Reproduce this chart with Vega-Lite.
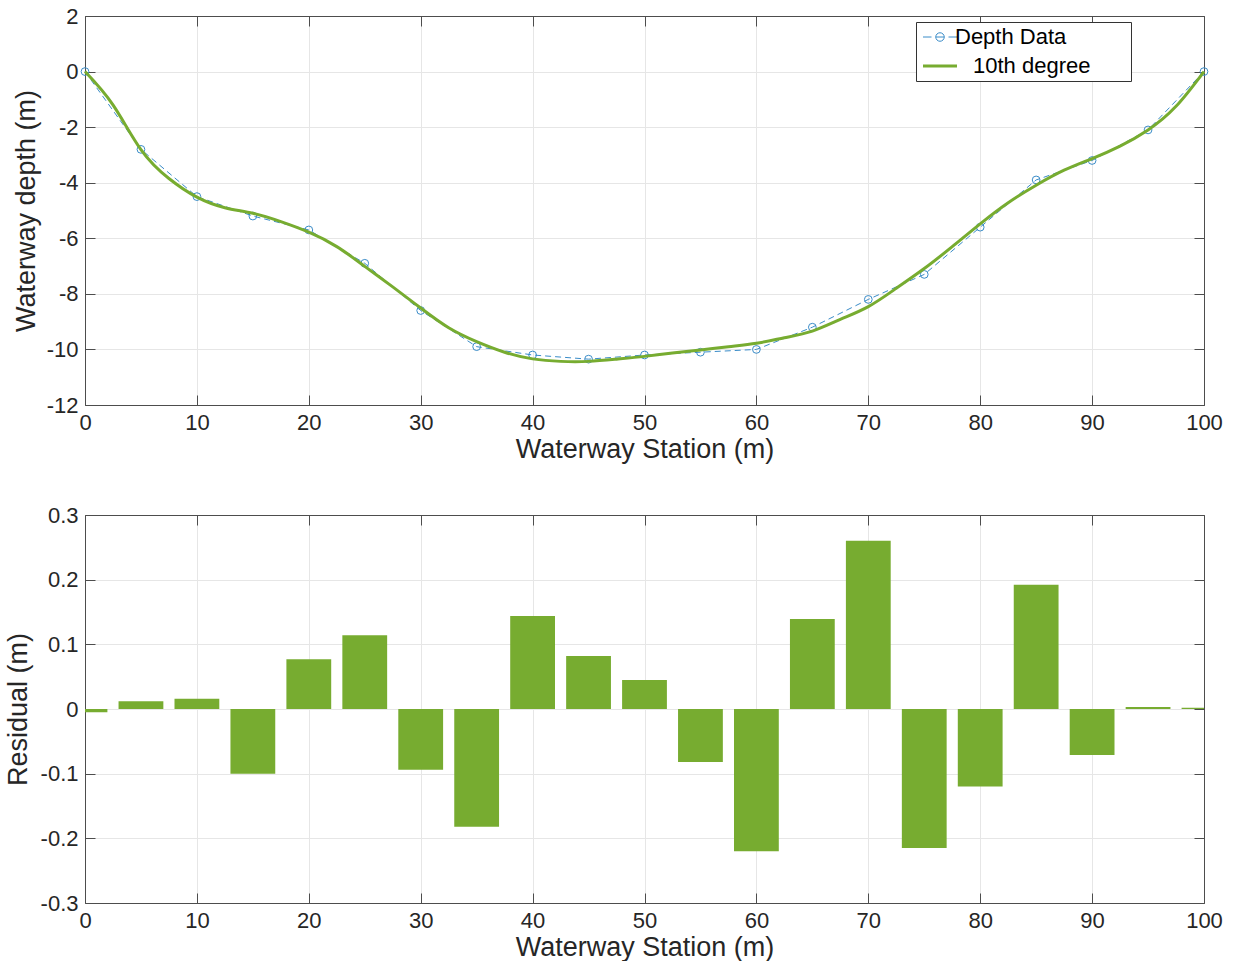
{
  "$schema": "https://vega.github.io/schema/vega-lite/v6.json",
  "background": "white",
  "padding": {"left": 4, "top": 5, "right": 25, "bottom": 3},
  "bounds": "flush",
  "align": "all",
  "center": false,
  "spacing": 110,
  "config": {
    "view": {"stroke": null},
    "font": "Liberation Sans",
    "axis": {
      "labelFont": "Liberation Sans",
      "labelFontSize": 22,
      "labelColor": "#262626",
      "titleFont": "Liberation Sans",
      "titleFontSize": 27,
      "titleFontWeight": "normal",
      "titleColor": "#262626",
      "gridColor": "#e6e6e6",
      "gridWidth": 1,
      "domainColor": "#4d4d4d",
      "domainWidth": 1,
      "tickColor": "#4d4d4d",
      "tickSize": -10,
      "labelFlush": false,
      "labelOverlap": false,
      "labelPadding": 17
    }
  },
  "datasets": {
    "depth": [
      {"station": 0, "depth": 0},
      {"station": 5, "depth": -2.8},
      {"station": 10, "depth": -4.5},
      {"station": 15, "depth": -5.2},
      {"station": 20, "depth": -5.7},
      {"station": 25, "depth": -6.9},
      {"station": 30, "depth": -8.6},
      {"station": 35, "depth": -9.9},
      {"station": 40, "depth": -10.2},
      {"station": 45, "depth": -10.35},
      {"station": 50, "depth": -10.2},
      {"station": 55, "depth": -10.1},
      {"station": 60, "depth": -10.0},
      {"station": 65, "depth": -9.2},
      {"station": 70, "depth": -8.2},
      {"station": 75, "depth": -7.3},
      {"station": 80, "depth": -5.6},
      {"station": 85, "depth": -3.9},
      {"station": 90, "depth": -3.2},
      {"station": 95, "depth": -2.1},
      {"station": 100, "depth": 0}
    ],
    "fit": [
      {"station": 0, "depth": 0.0},
      {"station": 2.5, "depth": -1.2},
      {"station": 5, "depth": -2.81},
      {"station": 7.5, "depth": -3.85},
      {"station": 10, "depth": -4.52},
      {"station": 12.5, "depth": -4.9},
      {"station": 15, "depth": -5.1},
      {"station": 17.5, "depth": -5.4},
      {"station": 20, "depth": -5.78},
      {"station": 22.5, "depth": -6.3},
      {"station": 25, "depth": -7.01},
      {"station": 27.5, "depth": -7.75},
      {"station": 30, "depth": -8.51},
      {"station": 32.5, "depth": -9.22},
      {"station": 35, "depth": -9.72},
      {"station": 37.5, "depth": -10.1},
      {"station": 40, "depth": -10.34},
      {"station": 42.5, "depth": -10.43},
      {"station": 45, "depth": -10.43},
      {"station": 47.5, "depth": -10.35},
      {"station": 50, "depth": -10.25},
      {"station": 52.5, "depth": -10.13},
      {"station": 55, "depth": -10.02},
      {"station": 57.5, "depth": -9.9},
      {"station": 60, "depth": -9.78},
      {"station": 62.5, "depth": -9.58},
      {"station": 65, "depth": -9.34},
      {"station": 67.5, "depth": -8.92},
      {"station": 70, "depth": -8.46},
      {"station": 72.5, "depth": -7.8},
      {"station": 75, "depth": -7.09},
      {"station": 77.5, "depth": -6.3},
      {"station": 80, "depth": -5.48},
      {"station": 82.5, "depth": -4.72},
      {"station": 85, "depth": -4.09},
      {"station": 87.5, "depth": -3.55},
      {"station": 90, "depth": -3.13},
      {"station": 92.5, "depth": -2.68},
      {"station": 95, "depth": -2.1},
      {"station": 97.5, "depth": -1.25},
      {"station": 100, "depth": 0.0}
    ],
    "resid": [
      {"station": 0, "residual": -0.005},
      {"station": 5, "residual": 0.012},
      {"station": 10, "residual": 0.016},
      {"station": 15, "residual": -0.1},
      {"station": 20, "residual": 0.077},
      {"station": 25, "residual": 0.114},
      {"station": 30, "residual": -0.094},
      {"station": 35, "residual": -0.182},
      {"station": 40, "residual": 0.144},
      {"station": 45, "residual": 0.082},
      {"station": 50, "residual": 0.045},
      {"station": 55, "residual": -0.082},
      {"station": 60, "residual": -0.22},
      {"station": 65, "residual": 0.139},
      {"station": 70, "residual": 0.26},
      {"station": 75, "residual": -0.215},
      {"station": 80, "residual": -0.12},
      {"station": 85, "residual": 0.192},
      {"station": 90, "residual": -0.071},
      {"station": 95, "residual": 0.003},
      {"station": 100, "residual": 0.002}
    ]
  },
  "vconcat": [
    {
      "width": 1119,
      "height": 389,
      "resolve": {"axis": {"x": "independent", "y": "independent"}},
      "layer": [
        {
          "data": {"name": "depth"},
          "mark": {"type": "line", "strokeDash": [6, 4], "strokeWidth": 1},
          "encoding": {
            "x": {"field": "station", "type": "quantitative", "scale": {"domain": [0, 100], "nice": false},
                  "axis": {"title": "Waterway Station (m)", "values": [0, 10, 20, 30, 40, 50, 60, 70, 80, 90, 100], "titlePadding": 3}},
            "y": {"field": "depth", "type": "quantitative", "scale": {"domain": [-12, 2], "nice": false},
                  "axis": {"title": "Waterway depth (m)", "values": [-12, -10, -8, -6, -4, -2, 0, 2], "titlePadding": 6,
                           "labelExpr": "replace(format(datum.value, 'd'), '\u2212', '-')"}},
            "color": {"datum": "Depth Data", "type": "nominal",
                      "scale": {"domain": ["Depth Data", "10th degree"], "range": ["#3a8cc8", "#77AC30"]},
                      "legend": {
                        "orient": "none", "legendX": 831, "legendY": 6, "title": null,
                        "fillColor": "white", "strokeColor": "#333333", "padding": 4,
                        "labelFont": "Liberation Sans", "labelFontSize": 22, "labelColor": "#000000",
                        "labelOffset": 4, "rowPadding": 7, "symbolSize": 1156, "symbolOffset": 9,
                        "encode": {
                          "symbols": {
                            "update": {
                              "shape": {"signal": "datum.value === 'Depth Data' ? 'M-1,0L-0.5,0M0.5,0L1,0M-0.25,0L0.25,0M0.25,0A0.25,0.25,0,1,1,-0.25,0A0.25,0.25,0,1,1,0.25,0' : 'M-1,0L1,0M10.6,0'"},
                              "strokeWidth": {"signal": "datum.value === 'Depth Data' ? 1 : 3"},
                              "stroke": {"signal": "datum.value === 'Depth Data' ? '#3a8cc8' : '#77AC30'"},
                              "fill": {"value": "transparent"},
                              "opacity": {"value": 1}
                            }
                          },
                          "labels": {
                            "update": {
                              "dx": {"signal": "datum.value === '10th degree' ? 18 : 0"}
                            }
                          }
                        }
                      }}
          }
        },
        {
          "data": {"name": "depth"},
          "mark": {"type": "point", "shape": "circle", "filled": false, "size": 60, "strokeWidth": 1, "opacity": 1},
          "encoding": {
            "x": {"field": "station", "type": "quantitative",
                  "axis": {"orient": "top", "labels": false, "title": null, "grid": false, "values": [0, 10, 20, 30, 40, 50, 60, 70, 80, 90, 100]}},
            "y": {"field": "depth", "type": "quantitative",
                  "axis": {"orient": "right", "labels": false, "title": null, "grid": false, "values": [-12, -10, -8, -6, -4, -2, 0, 2]}},
            "color": {"datum": "Depth Data", "type": "nominal"}
          }
        },
        {
          "data": {"name": "fit"},
          "mark": {"type": "line", "strokeWidth": 3, "interpolate": "natural"},
          "encoding": {
            "x": {"field": "station", "type": "quantitative", "axis": null},
            "y": {"field": "depth", "type": "quantitative", "axis": null},
            "color": {"datum": "10th degree", "type": "nominal"}
          }
        }
      ]
    },
    {
      "width": 1119,
      "height": 388,
      "resolve": {"axis": {"x": "independent", "y": "independent"}},
      "layer": [
        {
          "data": {"name": "resid"},
          "mark": {"type": "bar", "width": 44.8, "color": "#77AC30", "clip": true},
          "encoding": {
            "x": {"field": "station", "type": "quantitative", "scale": {"domain": [0, 100], "nice": false, "padding": 0},
                  "axis": {"title": "Waterway Station (m)", "values": [0, 10, 20, 30, 40, 50, 60, 70, 80, 90, 100], "titlePadding": 3}},
            "y": {"field": "residual", "type": "quantitative", "scale": {"domain": [-0.3, 0.3], "nice": false},
                  "axis": {"title": "Residual (m)", "values": [-0.3, -0.2, -0.1, 0, 0.1, 0.2, 0.3], "titlePadding": 8,
                           "labelExpr": "replace(format(datum.value, '.1~f'), '\u2212', '-')"}}
          }
        },
        {
          "data": {"name": "resid"},
          "mark": {"type": "point", "opacity": 0},
          "encoding": {
            "x": {"field": "station", "type": "quantitative",
                  "axis": {"orient": "top", "labels": false, "title": null, "grid": false, "values": [0, 10, 20, 30, 40, 50, 60, 70, 80, 90, 100]}},
            "y": {"field": "residual", "type": "quantitative",
                  "axis": {"orient": "right", "labels": false, "title": null, "grid": false, "values": [-0.3, -0.2, -0.1, 0, 0.1, 0.2, 0.3]}}
          }
        }
      ]
    }
  ]
}
